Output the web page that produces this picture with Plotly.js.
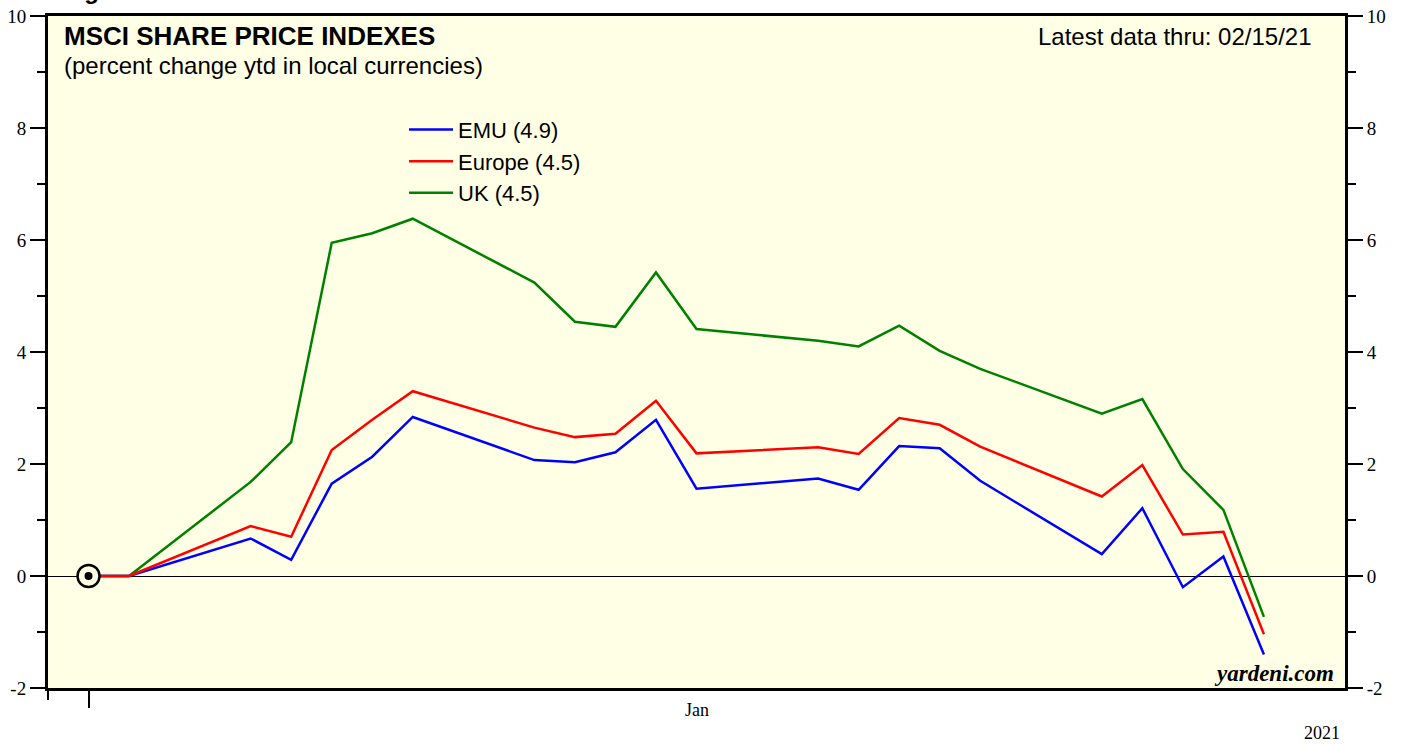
<!DOCTYPE html>
<html>
<head>
<meta charset="utf-8">
<script src="https://cdn.plot.ly/plotly-3.0.1.min.js"></script>
<style>html,body{margin:0;padding:0;background:#fff;}#chart{width:1403px;height:744px;}</style>
</head>
<body>
<div id="chart"></div>
<script>
// Dates (daily, calendar axis)
const dates = ['2020-12-31','2021-01-01','2021-01-04','2021-01-05','2021-01-06','2021-01-07','2021-01-08',
  '2021-01-11','2021-01-12','2021-01-13','2021-01-14','2021-01-15',
  '2021-01-18','2021-01-19','2021-01-20','2021-01-21','2021-01-22',
  '2021-01-25','2021-01-26','2021-01-27','2021-01-28','2021-01-29'];
// percent change ytd in local currencies
const emu    = [0, 0, 0.67, 0.29, 1.65, 2.13, 2.84, 2.07, 2.03, 2.21, 2.79, 1.56, 1.74, 1.54, 2.32, 2.28, 1.70, 0.39, 1.21, -0.20, 0.35, -1.40];
const europe = [0, 0, 0.89, 0.70, 2.25, 2.79, 3.30, 2.65, 2.48, 2.54, 3.13, 2.19, 2.30, 2.18, 2.82, 2.70, 2.31, 1.42, 1.98, 0.74, 0.79, -1.04];
const uk     = [0, 0, 1.68, 2.39, 5.95, 6.12, 6.38, 5.24, 4.54, 4.45, 5.42, 4.41, 4.20, 4.10, 4.47, 4.02, 3.70, 2.90, 3.16, 1.91, 1.18, -0.73];
const seriesNames = ['EMU (4.9)', 'Europe (4.5)', 'UK (4.5)'];
const yTicks = [-2, 0, 2, 4, 6, 8, 10];
const yTickText = yTicks.map(String);

const BG = '#FFFFE5';
const serif = 'Liberation Serif, Times New Roman, serif';
const sans = 'Liberation Sans, Arial, sans-serif';

const traces = [
  {x: dates, y: uk, name: seriesNames[2], mode: 'lines', line: {color: '#008000', width: 2.5}, legendrank: 3, hoverinfo: 'skip'},
  {x: dates, y: emu, name: seriesNames[0], mode: 'lines', line: {color: '#0000FF', width: 2.5}, legendrank: 1, hoverinfo: 'skip'},
  {x: dates, y: europe, name: seriesNames[1], mode: 'lines', line: {color: '#FF0000', width: 2.5}, legendrank: 2, hoverinfo: 'skip'},
  {x: [dates[0]], y: [emu[0]], mode: 'markers', showlegend: false, hoverinfo: 'skip',
   marker: {symbol: 'circle', size: 22, color: BG, line: {color: '#000', width: 2.5}}},
  {x: [dates[0]], y: [emu[0]], mode: 'markers', showlegend: false, hoverinfo: 'skip',
   marker: {symbol: 'circle', size: 8, color: '#000', line: {width: 0}}},
  {x: dates, y: emu, yaxis: 'y2', mode: 'lines', showlegend: false, hoverinfo: 'skip', opacity: 0, line: {width: 0}}
];

const yCommon = {
  range: [-2, 10], tickmode: 'array', tickvals: yTicks, ticktext: yTickText,
  ticks: 'outside', ticklen: 15, tickwidth: 1.5, tickcolor: '#000',
  showgrid: false, tickfont: {family: serif, size: 19, color: '#000'},
  minor: {tickmode: 'linear', tick0: 0, dtick: 1, ticks: 'outside', ticklen: 8, tickwidth: 1.5, tickcolor: '#000', showgrid: false},
  showline: true, linecolor: '#000', linewidth: 3, fixedrange: true
};

const layout = {
  width: 1403, height: 744,
  margin: {l: 48, r: 58, t: 16, b: 56},
  paper_bgcolor: '#fff', plot_bgcolor: BG,
  showlegend: true,
  legend: {x: 0.2745, y: 0.862, xanchor: 'left', yanchor: 'top', bgcolor: 'rgba(0,0,0,0)',
           font: {family: sans, size: 22, color: '#000'}, traceorder: 'normal', itemwidth: 44},
  xaxis: {
    type: 'date', range: ['2020-12-30', '2021-01-31'],
    showticklabels: false, showgrid: false, zeroline: false,
    tickmode: 'array', tickvals: [dates[0]], ticks: 'outside', ticklen: 17, tickwidth: 2, tickcolor: '#000',
    minor: {tickmode: 'array', tickvals: ['2020-12-30'], ticks: 'outside', ticklen: 9, tickwidth: 2, tickcolor: '#000'},
    showline: true, mirror: true, linecolor: '#000', linewidth: 3, fixedrange: true
  },
  yaxis: Object.assign({}, yCommon, {side: 'left', mirror: true, zeroline: true, zerolinecolor: '#000', zerolinewidth: 1}),
  yaxis2: Object.assign({}, yCommon, {side: 'right', overlaying: 'y', zeroline: false}),
  annotations: [
    {text: '<b>Figure 1.</b>', xref: 'paper', yref: 'paper', x: 0.0108, y: 1.016, xanchor: 'left', yanchor: 'bottom',
     showarrow: false, font: {family: sans, size: 24, color: '#000'}, borderpad: 0},
    {text: '<b>MSCI SHARE PRICE INDEXES</b>', xref: 'paper', yref: 'paper', x: 0.0108, y: 0.970, xanchor: 'left', yanchor: 'middle',
     showarrow: false, font: {family: sans, size: 26, color: '#000'}},
    {text: '(percent change ytd in local currencies)', xref: 'paper', yref: 'paper', x: 0.0108, y: 0.926, xanchor: 'left', yanchor: 'middle',
     showarrow: false, font: {family: sans, size: 24, color: '#000'}},
    {text: 'Latest data thru: 02/15/21', xref: 'paper', yref: 'paper', x: 0.9762, y: 0.970, xanchor: 'right', yanchor: 'middle',
     showarrow: false, font: {family: sans, size: 24, color: '#000'}},
    {text: '<b><i>yardeni.com</i></b>', xref: 'paper', yref: 'paper', x: 0.9932, y: 0.022, xanchor: 'right', yanchor: 'middle',
     showarrow: false, font: {family: serif, size: 23, color: '#000'}},
    {text: 'Jan', xref: 'x', yref: 'paper', x: '2021-01-15', y: -0.0327, xanchor: 'center', yanchor: 'middle',
     showarrow: false, font: {family: serif, size: 18, color: '#000'}},
    {text: '2021', xref: 'paper', yref: 'paper', x: 0.9823, y: -0.067, xanchor: 'center', yanchor: 'middle',
     showarrow: false, font: {family: serif, size: 18, color: '#000'}}
  ]
};

Plotly.newPlot('chart', traces, layout, {displayModeBar: false, staticPlot: true});
</script>
</body>
</html>
